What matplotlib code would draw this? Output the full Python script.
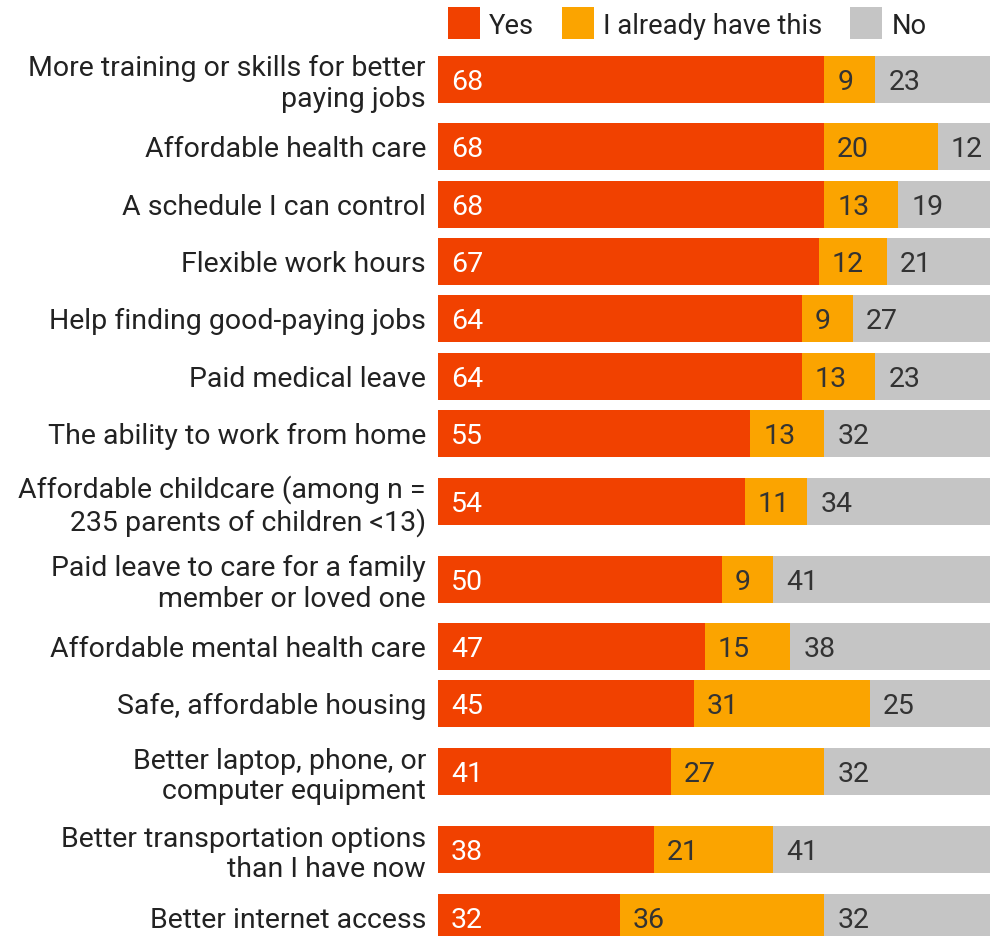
import matplotlib
matplotlib.use("Agg")
import matplotlib.pyplot as plt
from matplotlib.patches import Rectangle

plt.rcParams['font.family'] = ['Roboto', 'DejaVu Sans']

categories = [
    "More training or skills for better\npaying jobs",
    "Affordable health care",
    "A schedule I can control",
    "Flexible work hours",
    "Help finding good-paying jobs",
    "Paid medical leave",
    "The ability to work from home",
    "Affordable childcare (among n =\n235 parents of children <13)",
    "Paid leave to care for a family\nmember or loved one",
    "Affordable mental health care",
    "Safe, affordable housing",
    "Better laptop, phone, or\ncomputer equipment",
    "Better transportation options\nthan I have now",
    "Better internet access",
]
yes = [68, 68, 68, 67, 64, 64, 55, 54, 50, 47, 45, 41, 38, 32]
already = [9, 20, 13, 12, 9, 13, 13, 11, 9, 15, 31, 27, 21, 36]
no = [23, 12, 19, 21, 27, 23, 32, 34, 41, 38, 25, 32, 41, 32]

series_names = ["Yes", "I already have this", "No"]
colors = ["#F14100", "#FBA400", "#C5C5C5"]
text_colors = ["white", "#333333", "#333333"]

W, H = 990, 936
DPI = 100
FS = 20.5          # font size in points (~28 px)
LEG_FS = 19.7
BAR_H = 47         # bar thickness in pixels
ROW_1 = 57.3       # row slot for one-line labels
ROW_2 = 78.0       # row slot for two-line labels
TOP = 40.2

# Row centres in pixel units, stacked from the top
centers = []
y = TOP
for lab in categories:
    h = ROW_2 if "\n" in lab else ROW_1
    centers.append(y + h / 2)
    y += h

fig = plt.figure(figsize=(W / DPI, H / DPI), dpi=DPI)
left_px = 438
ax = fig.add_axes([left_px / W, 0, (W - left_px) / W, 1])
px_per_unit = 5.68
ax.set_xlim(0, (W - left_px) / px_per_unit)
ax.set_ylim(H, 0)

stacks = [yes, already, no]
lefts = [0] * len(categories)
for vals, col, tcol in zip(stacks, colors, text_colors):
    ax.barh(centers, vals, left=lefts, height=BAR_H, color=col, edgecolor="none")
    for c, l, v in zip(centers, lefts, vals):
        ax.annotate(str(v), xy=(l, c), xytext=(13, 0), textcoords="offset pixels",
                    ha="left", va="center_baseline", fontsize=FS, color=tcol)
    lefts = [a + b for a, b in zip(lefts, vals)]

ax.set_yticks(centers)
ax.set_yticklabels(categories, fontsize=FS, color="#222222", linespacing=1.18,
                   ha="right", multialignment="right")
ax.tick_params(axis="y", length=0, pad=12 * 72 / DPI)
ax.set_xticks([])
for s in ax.spines.values():
    s.set_visible(False)

# Legend row drawn by hand in figure pixels: swatch, label, gap, next swatch
renderer = fig.canvas.get_renderer()
SW = 32            # swatch size, px
x = 448
y_top = 7
for name, col in zip(series_names, colors):
    fig.patches.append(Rectangle((x / W, 1 - (y_top + SW) / H), SW / W, SW / H,
                                 transform=fig.transFigure, facecolor=col,
                                 edgecolor="none"))
    t = fig.text((x + SW + 9) / W, 1 - (y_top + SW / 2) / H, name, fontsize=LEG_FS,
                 color="#222222", ha="left", va="center_baseline")
    bb = t.get_window_extent(renderer)
    x = bb.x1 + 28

fig.savefig("out.png", dpi=DPI)
